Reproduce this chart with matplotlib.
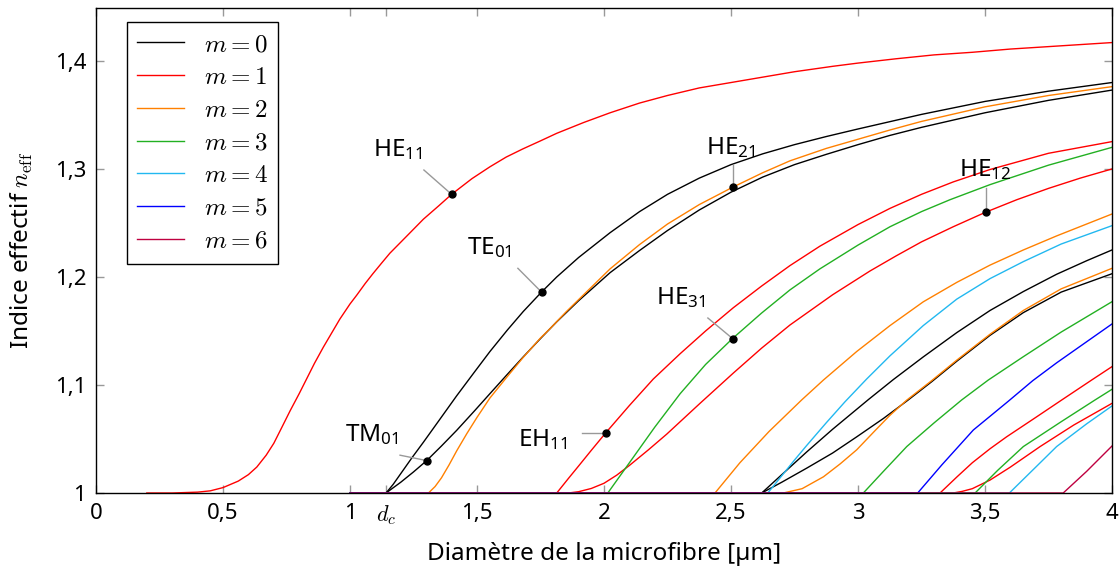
import numpy as np
import matplotlib.pyplot as plt
from matplotlib.lines import Line2D

plt.rcParams['font.family'] = ['Noto Sans', 'DejaVu Sans']
plt.rcParams['mathtext.fontset'] = 'cm'
plt.rcParams['mathtext.rm'] = 'Noto Sans'
plt.rcParams['mathtext.it'] = 'Noto Sans:italic'
plt.rcParams['mathtext.sf'] = 'Noto Sans'

# cut-off diameter of TE01 / TM01
dc = 1.142

# m = 0
te01_x = [1.0, 1.142, 1.17, 1.2, 1.245, 1.289, 1.35, 1.42, 1.49, 1.551, 1.62, 1.682, 1.754, 1.814, 1.9, 2.024,
          2.14, 2.25, 2.375, 2.5, 2.625, 2.75, 2.875, 3.0, 3.25, 3.5, 3.75, 4.0]
te01_n = [1.0, 1.0, 1.008, 1.018, 1.033, 1.047, 1.067, 1.090, 1.112, 1.131, 1.151, 1.168, 1.186, 1.200, 1.218, 1.241,
          1.2605, 1.2765, 1.2915, 1.304, 1.314, 1.3225, 1.330, 1.337, 1.3505, 1.3625, 1.372, 1.380]
tm01_x = [1.0, 1.142, 1.2, 1.25, 1.302, 1.36, 1.42, 1.49, 1.551, 1.62, 1.682, 1.75, 1.814, 1.9, 2.024, 2.14,
          2.25, 2.375, 2.5, 2.625, 2.75, 2.875, 3.0, 3.125, 3.25, 3.5, 3.75, 4.0]
tm01_n = [1.0, 1.0, 1.010, 1.0195, 1.030, 1.0435, 1.058, 1.076, 1.092, 1.110, 1.126, 1.143, 1.1585, 1.178, 1.204, 1.2245,
          1.243, 1.262, 1.2785, 1.2925, 1.304, 1.3135, 1.3225, 1.331, 1.3385, 1.352, 1.3635, 1.373]
te02_x = [1.0, 2.621, 2.7, 2.798, 2.9, 3.041, 3.139, 3.257, 3.389, 3.52, 3.651, 3.782, 3.9, 4.0]
te02_n = [1.0, 1.0, 1.017, 1.038, 1.059, 1.0865, 1.105, 1.126, 1.1485, 1.169, 1.1865, 1.2025, 1.215, 1.225]
tm02_x = [1.0, 2.621, 2.7, 2.798, 2.9, 2.995, 3.1, 3.197, 3.29, 3.389, 3.52, 3.651, 3.8, 4.0]
tm02_n = [1.0, 1.0, 1.010, 1.023, 1.037, 1.052, 1.069, 1.086, 1.103, 1.122, 1.146, 1.167, 1.186, 1.203]

# m = 1
he11_x = [0.2, 0.3, 0.4, 0.45, 0.5, 0.56, 0.6, 0.633, 0.67, 0.7, 0.73, 0.764, 0.8, 0.83, 0.86, 0.895, 0.93, 0.96,
          1.0, 1.026, 1.06, 1.09, 1.125, 1.157, 1.22, 1.289, 1.35, 1.4, 1.48, 1.551, 1.615, 1.68, 1.75, 1.814,
          1.92, 2.024, 2.14, 2.25, 2.375, 2.5, 2.6, 2.75, 2.9, 3.0, 3.15, 3.3, 3.45, 3.6, 3.8, 4.0]
he11_n = [1.0, 1.0, 1.0008, 1.002, 1.005, 1.011, 1.017, 1.024, 1.035, 1.046, 1.060, 1.076, 1.092, 1.106, 1.120, 1.135,
          1.149, 1.161, 1.175, 1.183, 1.194, 1.203, 1.213, 1.222, 1.237, 1.2535, 1.266, 1.2765, 1.291, 1.302, 1.311,
          1.3185, 1.326, 1.333, 1.343, 1.352, 1.361, 1.368, 1.375, 1.380, 1.384, 1.390, 1.395, 1.398, 1.402, 1.4056,
          1.408, 1.411, 1.414, 1.417]
eh11_x = [1.0, 1.814, 1.86, 1.9, 1.95, 2.008, 2.1, 2.194, 2.3, 2.4, 2.509, 2.62, 2.732, 2.85, 3.0, 3.126, 3.25,
          3.375, 3.52, 3.75, 4.0]
eh11_n = [1.0, 1.0, 1.0135, 1.025, 1.0395, 1.056, 1.081, 1.1055, 1.129, 1.150, 1.1715, 1.1915, 1.2105, 1.2285,
          1.2485, 1.2635, 1.2765, 1.288, 1.2995, 1.3145, 1.3253]
he12_x = [1.0, 1.86, 1.9, 1.95, 2.0, 2.05, 2.1, 2.175, 2.247, 2.378, 2.509, 2.62, 2.732, 2.9, 3.047, 3.15, 3.25,
          3.375, 3.503, 3.625, 3.75, 3.875, 4.0]
he12_n = [1.0, 1.0, 1.0012, 1.0042, 1.009, 1.0165, 1.0255, 1.040, 1.0545, 1.083, 1.111, 1.134, 1.1555, 1.1835,
          1.2055, 1.2195, 1.2325, 1.2465, 1.260, 1.2715, 1.282, 1.2915, 1.300]
eh12_x = [1.0, 3.323, 3.39, 3.45, 3.52, 3.585, 3.7, 3.802, 3.92, 4.0]
eh12_n = [1.0, 1.0, 1.015, 1.028, 1.041, 1.052, 1.070, 1.0861, 1.1046, 1.117]
he13_x = [1.0, 3.375, 3.41, 3.45, 3.52, 3.6, 3.717, 3.85, 4.0]
he13_n = [1.0, 1.0, 1.0015, 1.004, 1.012, 1.024, 1.043, 1.063, 1.083]

# m = 2
he21_x = [1.0, 1.309, 1.335, 1.36, 1.39, 1.42, 1.46, 1.5, 1.551, 1.62, 1.68, 1.75, 1.787, 1.85, 1.9, 2.024,
          2.14, 2.25, 2.375, 2.506, 2.625, 2.732, 2.875, 3.0, 3.125, 3.25, 3.5, 3.75, 4.0]
he21_n = [1.0, 1.0, 1.006, 1.014, 1.026, 1.039, 1.055, 1.070, 1.088, 1.108, 1.125, 1.1435, 1.152, 1.1675, 1.179,
          1.2075, 1.230, 1.249, 1.267, 1.283, 1.2965, 1.3075, 1.319, 1.3275, 1.336, 1.344, 1.3575, 1.368, 1.3762]
eh21_x = [1.0, 2.437, 2.535, 2.65, 2.778, 2.864, 2.995, 3.126, 3.257, 3.389, 3.52, 3.651, 3.782, 4.0]
eh21_n = [1.0, 1.0, 1.028, 1.057, 1.0861, 1.1046, 1.131, 1.155, 1.177, 1.195, 1.211, 1.225, 1.238, 1.2583]
he22_x = [1.0, 2.706, 2.78, 2.864, 2.93, 2.995, 3.06, 3.126, 3.192, 3.29, 3.389, 3.52, 3.651, 3.8, 4.0]
he22_n = [1.0, 1.0, 1.004, 1.015, 1.027, 1.040, 1.056, 1.072, 1.086, 1.104, 1.123, 1.147, 1.169, 1.189, 1.208]

# m = 3
he31_x = [1.0, 2.015, 2.1, 2.2, 2.3, 2.4, 2.506, 2.62, 2.732, 2.85, 3.0, 3.126, 3.25, 3.362, 3.52, 3.75, 4.0]
he31_n = [1.0, 1.0, 1.028, 1.061, 1.092, 1.119, 1.143, 1.1665, 1.188, 1.2075, 1.2295, 1.2465, 1.2605, 1.2715,
          1.2855, 1.3035, 1.320]
eh31_x = [1.0, 3.021, 3.1, 3.192, 3.3, 3.408, 3.513, 3.651, 3.8, 4.0]
eh31_n = [1.0, 1.0, 1.020, 1.043, 1.065, 1.0861, 1.1046, 1.1262, 1.149, 1.1771]
he32_x = [1.0, 3.461, 3.55, 3.651, 3.8, 3.933, 4.0]
he32_n = [1.0, 1.0, 1.021, 1.043, 1.066, 1.0861, 1.096]

# m = 4
he41_x = [1.0, 2.645, 2.7, 2.75, 2.798, 2.875, 2.949, 3.034, 3.126, 3.257, 3.389, 3.52, 3.651, 3.8, 4.0]
he41_n = [1.0, 1.0, 1.016, 1.0305, 1.044, 1.065, 1.0845, 1.1055, 1.127, 1.155, 1.1795, 1.1985, 1.2142, 1.2305, 1.2475]
eh41_x = [1.0, 3.596, 3.7, 3.782, 3.9, 4.0]
eh41_n = [1.0, 1.0, 1.024, 1.043, 1.064, 1.0806]

# m = 5
he51_x = [1.0, 3.235, 3.33, 3.454, 3.592, 3.688, 3.782, 3.9, 4.0]
he51_n = [1.0, 1.0, 1.026, 1.0583, 1.085, 1.104, 1.1205, 1.140, 1.1565]

# m = 6
he61_x = [1.0, 3.808, 3.9, 4.0]
he61_n = [1.0, 1.0, 1.020, 1.0435]

colors = ['black', '#ff0000', '#ff8000', '#22b022', '#22b8f0', '#0000ff', '#bf0040']

modes = [
    (0, te01_x, te01_n), (0, tm01_x, tm01_n), (0, te02_x, te02_n), (0, tm02_x, tm02_n),
    (1, he11_x, he11_n), (1, eh11_x, eh11_n), (1, he12_x, he12_n), (1, eh12_x, eh12_n), (1, he13_x, he13_n),
    (2, he21_x, he21_n), (2, eh21_x, eh21_n), (2, he22_x, he22_n),
    (3, he31_x, he31_n), (3, eh31_x, eh31_n), (3, he32_x, he32_n),
    (4, he41_x, he41_n), (4, eh41_x, eh41_n),
    (5, he51_x, he51_n),
    (6, he61_x, he61_n),
]

# label, curve, marker x, text pos, leader start
labels = [
    ('HE$_{11}$', he11_x, he11_n, 1.400, (1.189, 1.3176), (1.291, 1.299)),
    ('TE$_{01}$', te01_x, te01_n, 1.754, (1.551, 1.227), (1.661, 1.208)),
    ('TM$_{01}$', tm01_x, tm01_n, 1.302, (1.087, 1.054), (1.197, 1.035)),
    ('HE$_{21}$', he21_x, he21_n, 2.506, (2.50, 1.320), (2.506, 1.304)),
    ('HE$_{31}$', he31_x, he31_n, 2.506, (2.303, 1.181), (2.409, 1.162)),
    ('EH$_{11}$', eh11_x, eh11_n, 2.008, (1.760, 1.049), (1.913, 1.056)),
    ('HE$_{12}$', he12_x, he12_n, 3.503, (3.50, 1.299), (3.503, 1.282)),
]

fig = plt.figure(figsize=(11.2, 5.73), dpi=100)
ax = fig.add_axes([96 / 1120, 1 - 493 / 573, 1016 / 1120, 485 / 573])

for m, xs, ns in modes:
    ax.plot(xs, ns, color=colors[m], lw=1.0, solid_joinstyle='round')

for lab, xs, ns, mx, tpos, lpos in labels:
    my = np.interp(mx, xs, ns)
    ax.plot([lpos[0], mx], [lpos[1], my], color='#999999', lw=1.0, zorder=4)
    ax.plot(mx, my, 'o', color='black', ms=5, zorder=5)
    ax.text(tpos[0], tpos[1], lab, fontsize=17.5, ha='center', va='center',
            math_fontfamily='custom')

ax.set_xlim(0, 4)
ax.set_ylim(1.0, 1.449)
ax.set_xticks([0, 0.5, 1, dc, 1.5, 2, 2.5, 3, 3.5, 4])
ax.set_xticklabels(['0', '0,5', '1', '$d_c$', '1,5', '2', '2,5', '3', '3,5', '4'])
ax.set_yticks([1, 1.1, 1.2, 1.3, 1.4])
ax.set_yticklabels(['1', '1,1', '1,2', '1,3', '1,4'])
ax.tick_params(direction='in', length=6, width=1, color='#999999', labelsize=16,
               top=True, right=True, pad=7)
for s in ax.spines.values():
    s.set_linewidth(1.0)

ax.set_xlabel('Diamètre de la microfibre [µm]', fontsize=17.5, labelpad=11)
ax.set_ylabel('Indice effectif $n_{\\mathrm{eff}}$', fontsize=17.5, labelpad=14)

handles = [Line2D([], [], color=c, lw=1.0) for c in colors]
names = ['$m = %d$' % i for i in range(7)]
leg = ax.legend(handles, names, loc='upper left', bbox_to_anchor=(0.0305, 0.971),
                borderaxespad=0, fontsize=18, fancybox=False, framealpha=1,
                edgecolor='black', handlelength=1.9, labelspacing=0.31, borderpad=0.4)
leg.get_frame().set_linewidth(1.0)

fig.savefig('out.png', dpi=100)
